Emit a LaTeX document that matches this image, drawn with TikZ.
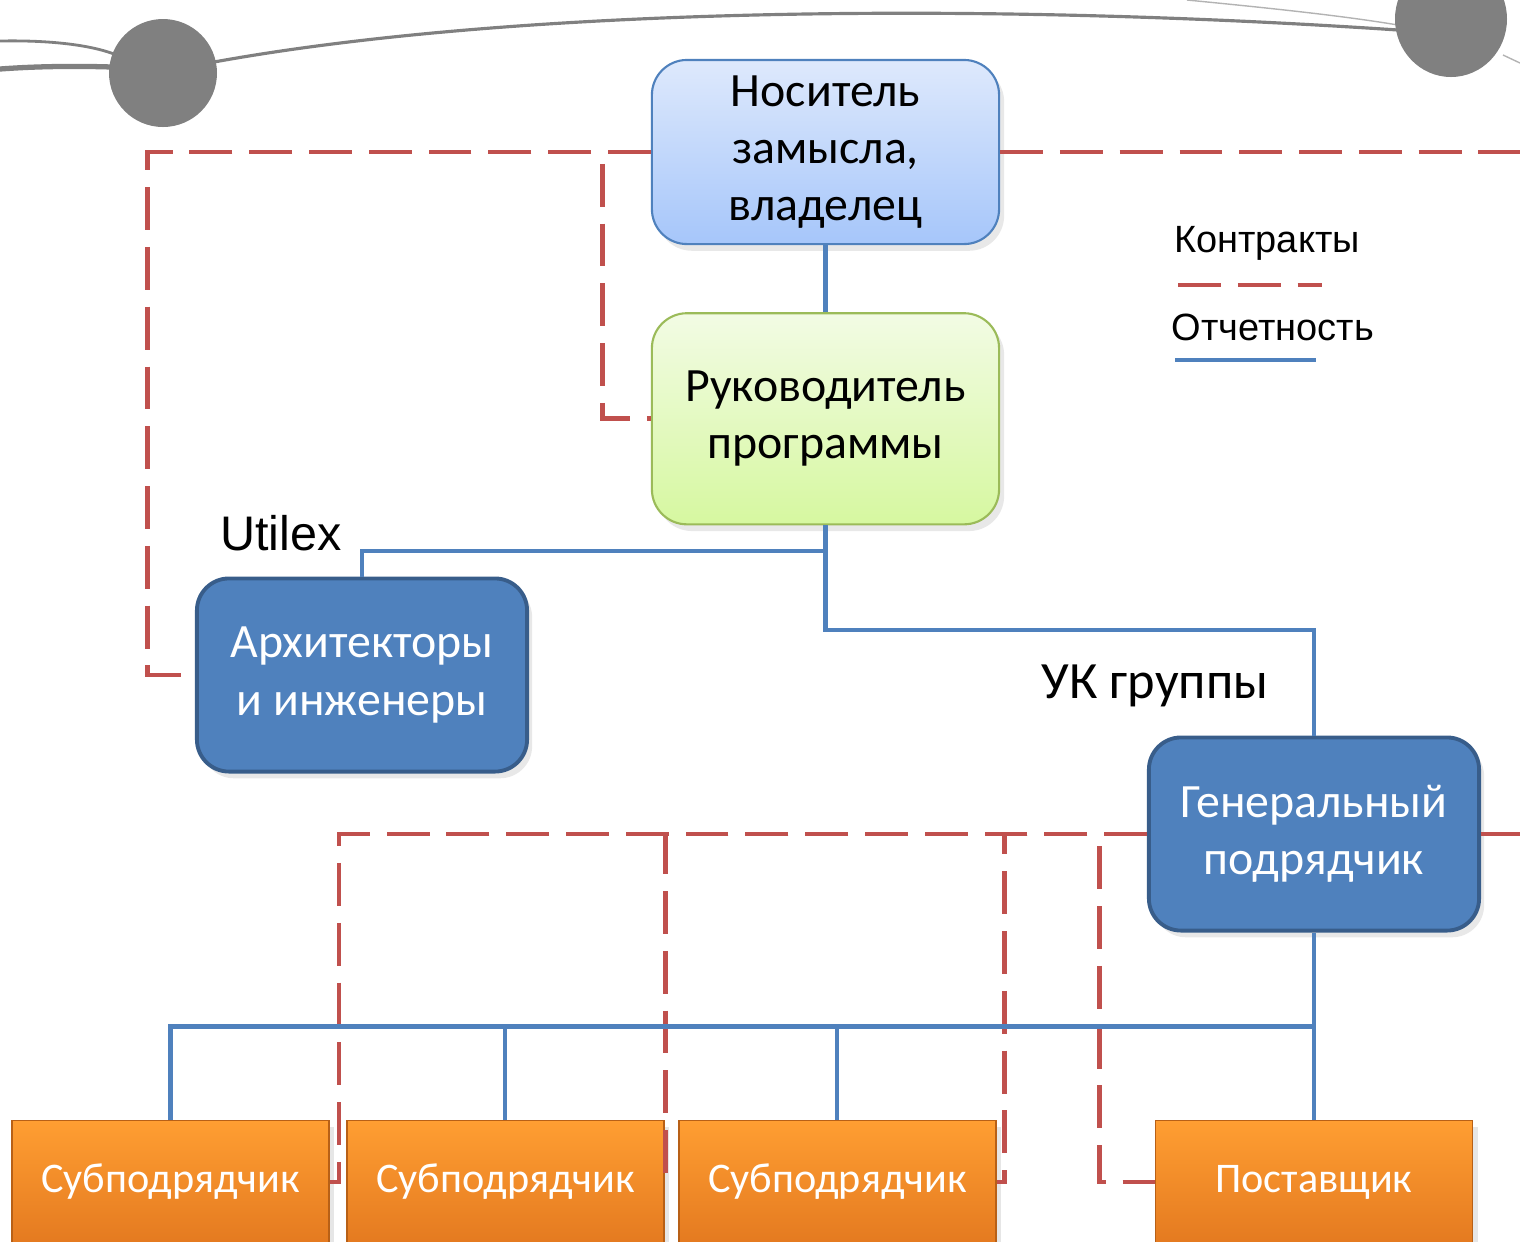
\documentclass[tikz,border=0pt]{standalone}
\usepackage{fontspec}
\setmainfont{Carlito}
\newfontfamily\arialfont{Liberation Sans}
\usetikzlibrary{positioning,shadows,calc}
\definecolor{Rep}{RGB}{79,129,189}
\definecolor{Ctr}{RGB}{192,80,77}
\definecolor{BoxBlue}{RGB}{79,129,189}
\definecolor{BoxEdge}{RGB}{56,93,138}
\definecolor{SkyTop}{RGB}{222,233,252}
\definecolor{SkyBot}{RGB}{166,198,250}
\definecolor{LimeTop}{RGB}{242,251,228}
\definecolor{LimeBot}{RGB}{214,248,160}
\definecolor{LimeEdge}{RGB}{155,187,89}
\definecolor{OrTop}{RGB}{255,158,50}
\definecolor{OrBot}{RGB}{228,122,32}
\definecolor{OrEdge}{RGB}{184,96,22}
\definecolor{Deco}{RGB}{128,128,128}

\begin{document}
\begin{tikzpicture}[x=.01cm,y=-.01cm,
 sky/.style={rounded corners=.35cm,draw=Rep,line width=.6pt,top color=SkyTop,bottom color=SkyBot,minimum width=3.47cm,minimum height=1.84cm,align=center,font=\fontsize{13.6}{16.3}\selectfont,drop shadow={opacity=.18,shadow xshift=.3ex,shadow yshift=-.4ex}},
 grn/.style={sky,draw=LimeEdge,top color=LimeTop,bottom color=LimeBot,minimum height=2.11cm},
 blu/.style={rounded corners=.32cm,draw=BoxEdge,line width=1.1pt,fill=BoxBlue,text=white,minimum width=3.3cm,minimum height=1.93cm,align=center,font=\fontsize{13.6}{16.3}\selectfont,drop shadow={opacity=.18,shadow xshift=.3ex,shadow yshift=-.4ex}},
 org/.style={draw=OrEdge,line width=.5pt,top color=OrTop,bottom color=OrBot,text=white,minimum width=3.17cm,minimum height=1.23cm,font=\fontsize{12}{14}\selectfont,drop shadow={opacity=.2,shadow xshift=.3ex,shadow yshift=-.4ex}},
 lbl/.style={font=\arialfont\fontsize{13.8}{16}\selectfont},
 leg/.style={font=\arialfont\fontsize{10.8}{13}\selectfont},
 rep/.style={line width=1.15pt,Rep},
 ctr/.style={line width=1.4pt,Ctr,dash pattern=on 12.2pt off 4.8pt}]
\useasboundingbox (0,0) rectangle (1520,1241);
% top ornament
\draw[Deco,line width=.8pt] (0,41) .. controls (50,40) and (90,45) .. (114,54);
\draw[Deco,line width=1.5pt] (0,69) .. controls (40,66) and (80,66) .. (112,67);
\draw[Deco,line width=.9pt] (214,62) .. controls (500,10) and (950,0) .. (1398,30);
\draw[Deco!60,line width=.4pt] (1187,0) .. controls (1290,10) and (1350,17) .. (1398,25);
\draw[Deco!60,line width=.4pt] (1503,55) -- (1520,63);
\fill[Deco] (163,73) circle (54);
\fill[Deco] (1451,19) ellipse (56 and 58);
\coordinate (edgeR) at (1520,0);
% boxes
\node[sky] (owner) at (825.5,152) {Носитель\\замысла,\\владелец};
\node[grn,below=.67cm of owner] (pm) {Руководитель\\программы};
\node[blu] (arch) at (362,675) {Архитекторы\\и инженеры};
\node[blu] (gc) at (1314,834) {Генеральный\\подрядчик};
\node[org] (s1) at (170.5,1182) {Субподрядчик};
\node[org,right=.16cm of s1] (s2) {Субподрядчик};
\node[org,right=.13cm of s2] (s3) {Субподрядчик};
\node[org] (sup) at (1314,1182) {Поставщик};
\node[lbl] (utx) at (281,533) {Utilex};
\node[font=\fontsize{14.9}{17}\selectfont] (uk) at (1155,686) {УК группы};
% legend
\node[leg] (lgc) at (1267,243) {Контракты};
\node[leg] (lgr) at (1273,327) {Отчетность};
\draw[ctr] (1178,285) -- (1322,285);
\draw[rep] (1175,360) -- (1316,360);
% contracts
\draw[ctr] (owner.west) -| ([xshift=-.47cm]arch.west) -- (arch.west);
\draw[ctr] (owner.west) -- ++(-48,0) |- (pm.west);
\draw[ctr] (owner.east) -- (owner.east -| edgeR);
\draw[ctr] (gc.west) -| ([xshift=.09cm]s1.east) -- (s1.east);
\draw[ctr] (gc.west) -| ([xshift=.01cm]s2.east);
\draw[ctr] (gc.west) -| ([xshift=.08cm]s3.east) -- (s3.east);
\draw[ctr] (gc.west) -| ([xshift=-.55cm]sup.west) -- (sup.west);
\draw[ctr] (gc.east) -- (gc.east -| edgeR);
% reporting
\draw[rep] (owner) -- (pm);
\draw[rep] (pm.south) -- ++(0,26) -| (arch.north);
\draw[rep] (pm.south) -- ++(0,105) -| (gc.north);
\draw[rep] (gc.south) -- ++(0,94) coordinate (bus) -| (s1.north);
\draw[rep] (bus) -| (s2.north);
\draw[rep] (bus) -| (s3.north);
\draw[rep] (bus) -- (sup.north);
\end{tikzpicture}
\end{document}
